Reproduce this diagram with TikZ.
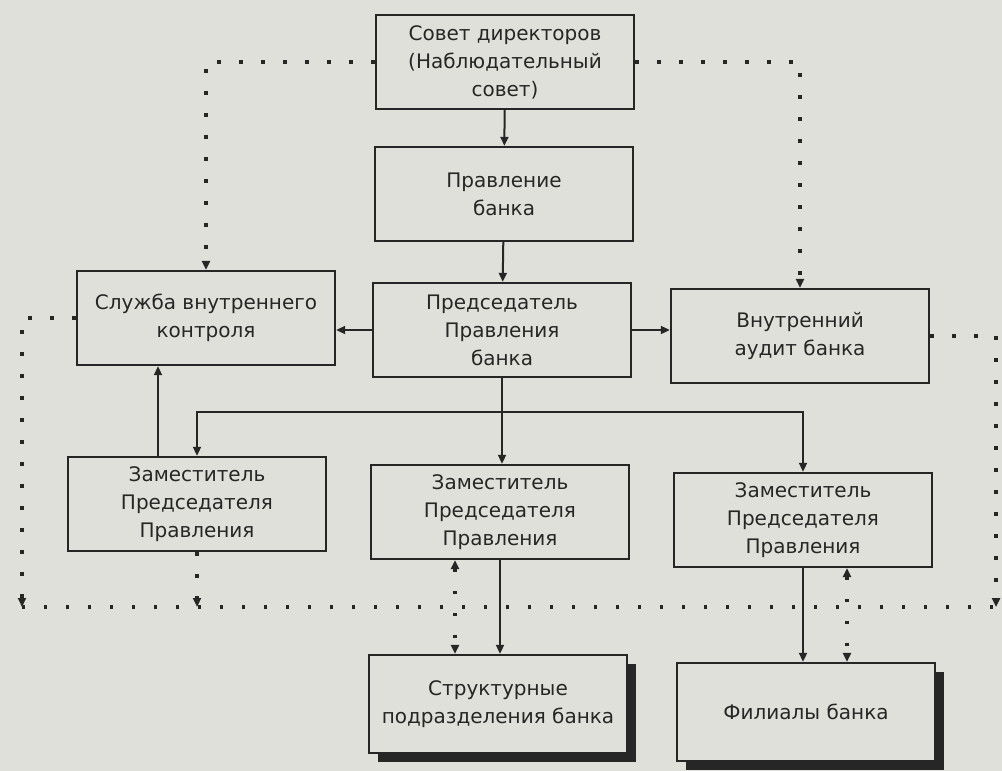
\documentclass[tikz,border=0pt]{standalone}
\usepackage{fontspec}
\setmainfont{DejaVu Sans}
\usetikzlibrary{arrows.meta, calc, shadows}

\definecolor{paper}{RGB}{224,224,219}
\definecolor{ink}{RGB}{38,38,38}

\begin{document}
\begin{tikzpicture}[
x=0.5pt, y=-0.5pt,
% #region Picture settings %
>={Triangle[length=4.5pt, width=4pt]},
box/.style={draw=ink, line width=1.2pt, fill=paper, align=center, inner sep=2pt, minimum width=129pt, minimum height=47pt, font=\fontsize{10}{14}\selectfont, text=ink},
unitbox/.style={box, minimum height=49pt, drop shadow={shadow xshift=4.5pt, shadow yshift=-4.5pt, fill=ink, opacity=1}},
link/.style={draw=ink, line width=1pt},
dotline/.style={draw=ink, line width=1.7pt, dash pattern=on 1.7pt off 9.3pt},
% #endregion Picture settings %
]

\fill[paper] (0,0) rectangle (1002,771);
\useasboundingbox (0,0) rectangle (1002,771);

\node[box] (sovet) at (505,62) {Совет директоров\\(Наблюдательный\\совет)};
\node[box] (pravlenie) at (504,194) {Правление\\банка};
\node[box] (pred) at (502,330) {Председатель\\Правления\\банка};
\node[box] (sluzhba) at (206,318) {Служба внутреннего\\контроля};
\node[box] (audit) at (800,336) {Внутренний\\аудит банка};

\node[box] (zamL) at (197,504) {Заместитель\\Председателя\\Правления};
\node[box] (zamM) at (500,512) {Заместитель\\Председателя\\Правления};
\node[box] (zamR) at (803,520) {Заместитель\\Председателя\\Правления};

\node[unitbox] (podr) at (498,704) {Структурные\\подразделения банка};
\node[unitbox] (filialy) at (806,712) {Филиалы банка};

\coordinate (fork) at (502,412);
\coordinate (busL) at (22,607);
\coordinate (busR) at (996,607);
\coordinate (upL) at ($(zamL.north)+(-39,0)$);
\coordinate (twoM) at ($(zamM.south)+(-45,0)$);
\coordinate (twoR) at ($(zamR.south)+(44,0)$);

\draw[link, ->] (sovet) -- (pravlenie);
\draw[link, ->] (pravlenie) -- (pred);
\draw[link, ->] (pred.west) -- (pred.west -| sluzhba.east);
\draw[link, ->] (pred.east) -- (pred.east -| audit.west);
\draw[link, ->] (pred.south) -- (pred.south |- zamM.north);
\draw[link, ->] (fork) -| (zamL.north);
\draw[link, ->] (fork) -| (zamR.north);
\draw[link, ->] (upL) -- (upL |- sluzhba.south);
\draw[link, ->] (zamM.south) -- (zamM.south |- podr.north);
\draw[link, ->] (zamR.south) -- (zamR.south |- filialy.north);

\draw[dotline, ->] (sovet.west) -| (sluzhba.north);
\draw[dotline, ->] (sovet.east) -| (audit.north);
\draw[dotline, ->] (sluzhba.west) -| (busL);
\draw[dotline, ->] (audit.east) -| (busR);
\draw[dotline] (busL) -- (busR);
\draw[dotline, ->] (zamL.south) -- (zamL.south |- busL);
\draw[dotline, <->] (twoM) -- (twoM |- podr.north);
\draw[dotline, <->] (twoR) -- (twoR |- filialy.north);

\end{tikzpicture}
\end{document}
